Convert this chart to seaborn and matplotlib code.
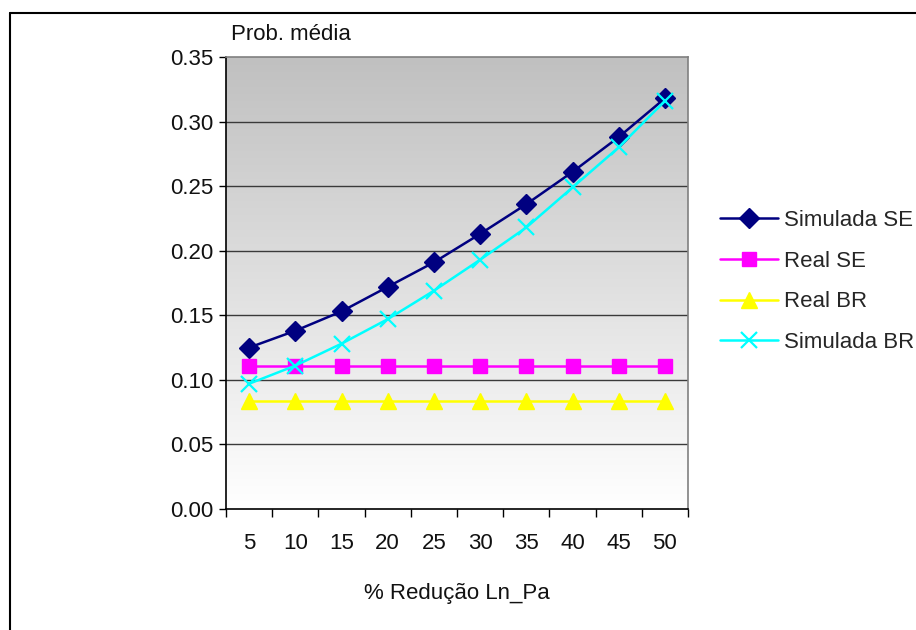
import numpy as np
import pandas as pd
import matplotlib
matplotlib.use("Agg")
import matplotlib.pyplot as plt
from matplotlib.lines import Line2D
from matplotlib.colors import LinearSegmentedColormap
import seaborn as sns

categories = ["5", "10", "15", "20", "25", "30", "35", "40", "45", "50"]
simulada_se = [0.125, 0.138, 0.153, 0.172, 0.191, 0.213, 0.236, 0.261, 0.288, 0.318]
real_se = [0.111] * 10
real_br = [0.084] * 10
simulada_br = [0.097, 0.111, 0.128, 0.147, 0.169, 0.193, 0.218, 0.249, 0.280, 0.316]
series_names = ["Simulada SE", "Real SE", "Real BR", "Simulada BR"]
yticks = [0.00, 0.05, 0.10, 0.15, 0.20, 0.25, 0.30, 0.35]

sns.set_theme(style="white")
plt.rcParams["font.family"] = ["Liberation Sans", "DejaVu Sans"]
FS = 16

fig = plt.figure(figsize=(9.16, 6.30), dpi=100)
ax = fig.add_axes([226 / 916, 1 - 509 / 630, (688 - 226) / 916, (509 - 57) / 630])

# gradient background
cmap = LinearSegmentedColormap.from_list("g", ["#FFFFFF", "#C0C0C0"])
grad = np.linspace(0, 1, 256).reshape(-1, 1)
ax.imshow(grad, extent=[0, 1, 0, 1], transform=ax.transAxes, cmap=cmap,
          origin="lower", aspect="auto", zorder=0)

colors = ["#000080", "#FF00FF", "#FFFF00", "#00FFFF"]
marks = ["D", "s", "^", "x"]
msizes = [10, 10, 11.5, 12]
handles = []
for name, vals, col, mk, ms in zip(series_names, [simulada_se, real_se, real_br, simulada_br],
                                   colors, marks, msizes):
    d = pd.DataFrame({"cat": categories, "val": vals})
    sns.lineplot(data=d, x="cat", y="val", color=col, marker=mk, markersize=ms,
                 markeredgecolor=col, markeredgewidth=1.6 if mk == "x" else 1.0,
                 linewidth=1.8, sort=False, ax=ax, zorder=3)
    handles.append(Line2D([], [], color=col, marker=mk, markersize=ms,
                          markeredgecolor=col, markeredgewidth=1.6 if mk == "x" else 1.0,
                          linewidth=1.8, label=name))

ax.set_xlim(-0.5, len(categories) - 0.5)
ax.set_ylim(0, 0.35)
ax.set_yticks(yticks)
ax.set_yticklabels([f"{t:.2f}" for t in yticks], fontsize=FS, color="#111111")
ax.set_xticks(range(len(categories)))
ax.set_xticklabels(categories, fontsize=FS, color="#111111")
ax.set_xticks(np.arange(-0.5, len(categories)), minor=True)
ax.tick_params(axis="x", which="major", length=0, pad=17)
ax.tick_params(axis="x", which="minor", length=6, width=1, color="black", direction="out", bottom=True)
ax.tick_params(axis="y", which="major", length=5, width=1, color="black", direction="out", left=True, pad=4)

for t in yticks[1:-1]:
    ax.axhline(t, color="#3a3a3a", lw=1.0, zorder=1)

ax.set_xlabel("% Redução Ln_Pa", fontsize=FS, labelpad=21, color="#111111")
ax.set_ylabel("")
fig.text(231 / 916, 1 - 35 / 630, "Prob. média", fontsize=FS, ha="left", va="center", color="#111111")

for s in ["left", "bottom"]:
    ax.spines[s].set_color("black")
    ax.spines[s].set_linewidth(1.2)
for s in ["top", "right"]:
    ax.spines[s].set_color("#808080")
    ax.spines[s].set_linewidth(1.2)
    ax.spines[s].set_visible(True)

ax.legend(handles=handles, loc="center left",
          bbox_to_anchor=(720 / 916, 1 - 281.5 / 630), bbox_transform=fig.transFigure,
          frameon=False, fontsize=FS, handlelength=2.6, handletextpad=0.3,
          labelspacing=0.88, borderpad=0, borderaxespad=0)

# outer chart border (top and left visible)
fig.add_artist(Line2D([10 / 916, 1.0], [1 - 13 / 630] * 2, color="black", lw=1.5,
                      transform=fig.transFigure))
fig.add_artist(Line2D([10 / 916] * 2, [0.0, 1 - 13 / 630], color="black", lw=1.5,
                      transform=fig.transFigure))

fig.savefig("out.png", dpi=100, facecolor="white")
